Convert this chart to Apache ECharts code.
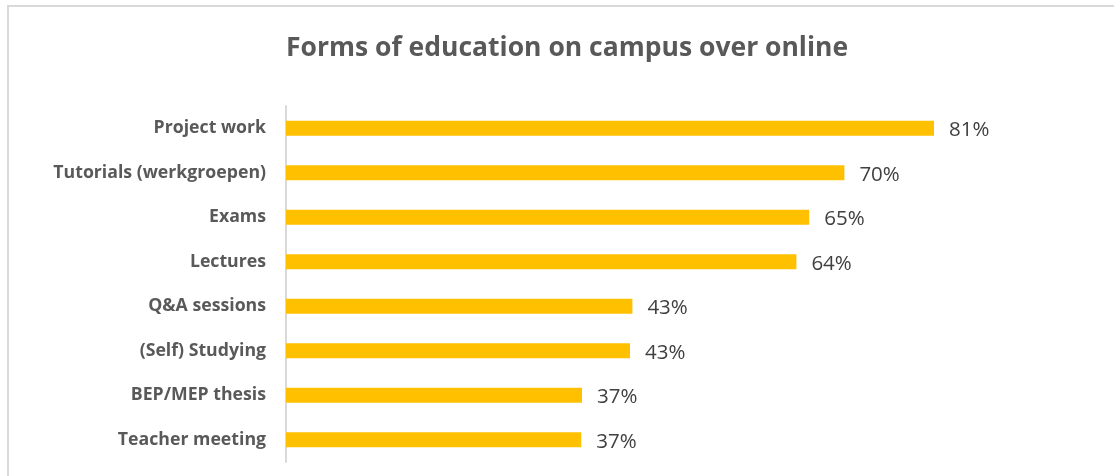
<!DOCTYPE html>
<html>
<head>
<meta charset="utf-8">
<script src="https://cdn.jsdelivr.net/npm/echarts@6/dist/echarts.min.js"></script>
<style>
	html, body { margin: 0; padding: 0; background: #fff; }
	#main { width: 1114px; height: 476px; }
</style>
</head>
<body>
<div id="main"></div>
<script>
	// categories, top to bottom
	var categories = ['Project work', 'Tutorials (werkgroepen)', 'Exams', 'Lectures',
		'Q&A sessions', '(Self) Studying', 'BEP/MEP thesis', 'Teacher meeting'];
	// share preferring on campus (%)
	var values = [81, 69.8, 65.4, 63.8, 43.3, 43.0, 37.0, 36.9];

	var myChart = echarts.init(document.getElementById('main'));
	myChart.setOption({
		backgroundColor: '#fff',
		animation: false,
		title: {
			text: 'Forms of education on campus over online',
			left: 281,
			top: 30,
			textStyle: {
				fontFamily: 'Open Sans',
				fontWeight: 'bold',
				fontSize: 26.5,
				color: '#595959'
			}
		},
		graphic: [{
			type: 'rect',
			shape: { x: 8, y: 6, width: 1200, height: 600 },
			style: { fill: 'none', stroke: '#d9d9d9', lineWidth: 2 },
			silent: true
		}],
		grid: {
			left: 286,
			right: 28,
			top: 106,
			bottom: 14
		},
		xAxis: {
			type: 'value',
			min: 0,
			max: 100,
			show: false
		},
		yAxis: {
			type: 'category',
			inverse: true,
			data: categories,
			axisLine: {
				lineStyle: { color: '#d9d9d9', width: 2 }
			},
			axisTick: { show: false },
			axisLabel: {
				margin: 20,
				fontFamily: 'Open Sans',
				fontWeight: 'bold',
				fontSize: 17.7,
				color: '#595959'
			}
		},
		series: [{
			type: 'bar',
			data: values,
			barWidth: 15,
			itemStyle: { color: '#FFC000' },
			label: {
				show: true,
				position: 'right',
				distance: 15,
				offset: [0, 2],
				fontFamily: 'Open Sans',
				fontSize: 20.5,
				color: '#404040',
				formatter: function(p) {
					return Math.round(p.value) + '%';
				}
			}
		}]
	});
</script>
</body>
</html>
